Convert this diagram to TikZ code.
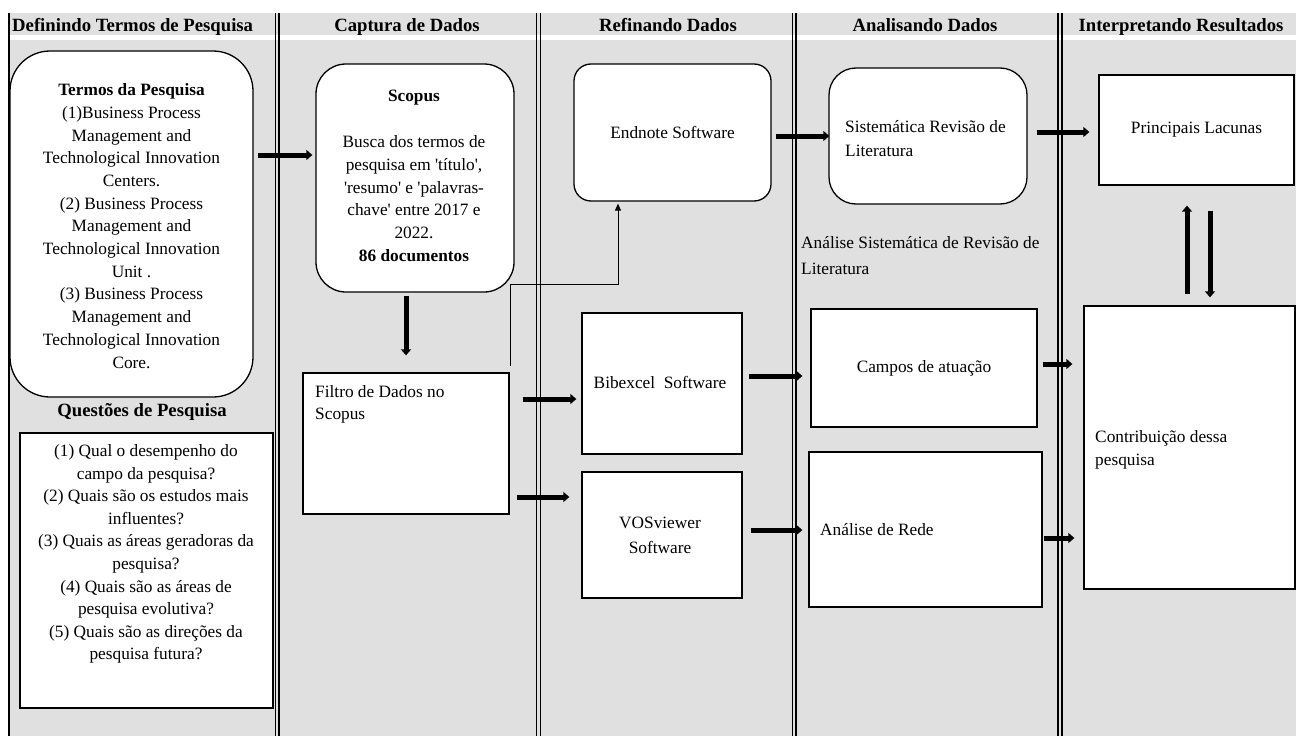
\documentclass[tikz,border=0pt]{standalone}
\usepackage{fontspec}
\setmainfont{Liberation Serif}
\usetikzlibrary{arrows.meta,calc}
\definecolor{bg}{RGB}{224,224,224}
\newcommand\bodyfnt{\fontsize{17.3}{22.7}\selectfont}
\newcommand\headfnt{\fontsize{18.7}{21}\selectfont\bfseries}
\newcommand\sq{\textquotesingle}
\begin{document}
\begin{tikzpicture}[x=1pt,y=-1pt,
  box/.style={draw, line width=1.3pt, fill=white, inner sep=0pt},
  txt/.style={inner sep=0pt, font=\bodyfnt},
  hdr/.style={inner sep=0pt, font=\headfnt},
  arr/.style={line width=5pt, -{Triangle[length=6pt,width=10pt]}},
  thinarr/.style={line width=1pt, -{Triangle[length=7pt,width=6pt]}},
  divider/.style={line width=1.1pt}]
\useasboundingbox (0,0) rectangle (1296,736);
% background
\fill[bg] (9,13) rectangle (1296,736);
\fill[white] (9,35) rectangle (1296,40);
\draw[divider] (9,13) -- (9,736);
\foreach \xa/\xb in {275.5/279, 536.5/540.5, 792.5/796, 1058/1062}{
  \draw[divider] (\xa,13) -- (\xa,736);
  \draw[divider] (\xb,13) -- (\xb,736);
}
% headers
\node[hdr, anchor=base west] (h1) at (12,31) {Definindo Termos de Pesquisa};
\node[hdr, anchor=base] (h2) at (407,31) {Captura de Dados};
\node[hdr, anchor=base] (h3) at (668,31) {Refinando Dados};
\node[hdr, anchor=base] (h4) at (925,31) {Analisando Dados};
\node[hdr, anchor=base] (h5) at (1181,31) {Interpretando Resultados};
% column 1
\node[box, rounded corners=40pt, minimum width=243pt, minimum height=346pt] (termos) at (131.5,224) {};
\node[txt, align=center] (termostxt) at (131.5,226) {\textbf{Termos da Pesquisa}\\(1)Business Process\\Management and\\Technological Innovation\\Centers.\\(2) Business Process\\Management and\\Technological Innovation\\Unit .\\(3) Business Process\\Management and\\Technological Innovation\\Core.};
\node[hdr, anchor=base] (qtitle) at (142,416) {Questões de Pesquisa};
\node[box, minimum width=253pt, minimum height=275pt] (quest) at (146.5,570.5) {};
\node[txt, align=center, font=\fontsize{17.3}{22.6}\selectfont] (questtxt) at (146,554) {(1) Qual o desempenho do\\campo da pesquisa?\\(2) Quais são os estudos mais\\influentes?\\(3) Quais as áreas geradoras da\\pesquisa?\\(4) Quais são as áreas de\\pesquisa evolutiva?\\(5) Quais são as direções da\\pesquisa futura?};
% column 2
\node[box, rounded corners=30pt, minimum width=198pt, minimum height=228pt] (scopus) at (415,178) {};
\node[txt, align=center, font=\fontsize{17.3}{22.9}\selectfont] (scopustxt) at (414,176) {\textbf{Scopus}\\[22.9pt]Busca dos termos de\\pesquisa em \sq título\sq,\\\sq resumo\sq{} e \sq palavras-\\chave\sq{} entre 2017 e\\2022.\\\textbf{86 documentos}};
\node[box, minimum width=206pt, minimum height=141pt] (filtro) at (406,443.5) {};
\node[txt, align=left, anchor=west, font=\fontsize{17.3}{22}\selectfont] (filtrotxt) at (315,404) {Filtro de Dados no\\Scopus};
% column 3
\node[box, rounded corners=17pt, minimum width=197pt, minimum height=137pt, font=\bodyfnt] (endnote) at (672.5,132.5) {Endnote Software};
\node[box, minimum width=160pt, minimum height=141pt] (bib) at (662,383.5) {};
\node[txt] (bibtxt) at (660,382) {Bibexcel\ \ Software};
\node[box, minimum width=160pt, minimum height=126pt] (vos) at (662,535) {};
\node[txt, align=center, font=\fontsize{17.3}{25}\selectfont] (vostxt) at (660,535) {VOSviewer\\Software};
% column 4
\node[box, rounded corners=27pt, minimum width=198pt, minimum height=136pt] (sist) at (928,136) {};
\node[txt, align=left, anchor=west, font=\fontsize{17.3}{23.3}\selectfont] (sisttxt) at (845,138.5) {Sistemática Revisão de\\Literatura};
\node[txt, align=left, anchor=west, font=\fontsize{17.3}{26}\selectfont] (analab) at (801,256) {Análise Sistemática de Revisão de\\Literatura};
\node[box, minimum width=226pt, minimum height=118pt, font=\bodyfnt] (campos) at (924,368) {Campos de atuação};
\node[box, minimum width=233pt, minimum height=155pt] (rede) at (925.5,529.5) {};
\node[txt, anchor=west] (redetxt) at (820,530) {Análise de Rede};
% column 5
\node[box, minimum width=195pt, minimum height=110pt, font=\bodyfnt] (lacunas) at (1196.5,130) {Principais Lacunas};
\node[box, minimum width=211pt, minimum height=283pt] (contrib) at (1189.5,447.5) {};
\node[txt, align=left, anchor=west, font=\fontsize{17.3}{23.3}\selectfont] (contribtxt) at (1095,450) {Contribuição dessa\\pesquisa};
% connectors
\draw[arr] ($(termos.east)+(4,-69)$) -- ($(scopus.west)+(-3,-23)$);
\draw[arr] ($(scopus.south)+(-9,3)$) -- ($(filtro.north)+(0,-17)$);
\draw[thinarr] ($(filtro.north east)+(1,-6)$) -- ++(0,-82) -| ($(endnote.south)+(-54.5,2)$);
\draw[arr] ($(filtro.east)+(13,-44.5)$) -- ($(bib.west)+(-5,15.5)$);
\draw[arr] ($(filtro.east)+(7,53.5)$) -- ($(vos.west)+(-12,-38)$);
\draw[arr] ($(endnote.east)+(4,3.5)$) -- ($(sist.west)+(1,0)$);
\draw[arr] ($(bib.east)+(6,-7.5)$) -- ($(campos.west)+(-8,8)$);
\draw[arr] ($(vos.east)+(8,-5)$) -- ($(rede.west)+(-6,0.5)$);
\draw[arr] ($(sist.east)+(9,-4)$) -- ($(lacunas.west)+(-9,2)$);
\draw[arr] ($(campos.east)+(5,-4)$) -- ($(contrib.west)+(-11,-83.5)$);
\draw[arr] ($(rede.east)+(1,8.5)$) -- ($(contrib.west)+(-9,90.5)$);
\draw[arr] ($(contrib.north)+(-2.5,-11)$) -- ($(lacunas.south)+(-9.5,20)$);
\draw[arr] ($(lacunas.south)+(13.5,25)$) -- ($(contrib.north)+(20.5,-8)$);
\end{tikzpicture}
\end{document}
